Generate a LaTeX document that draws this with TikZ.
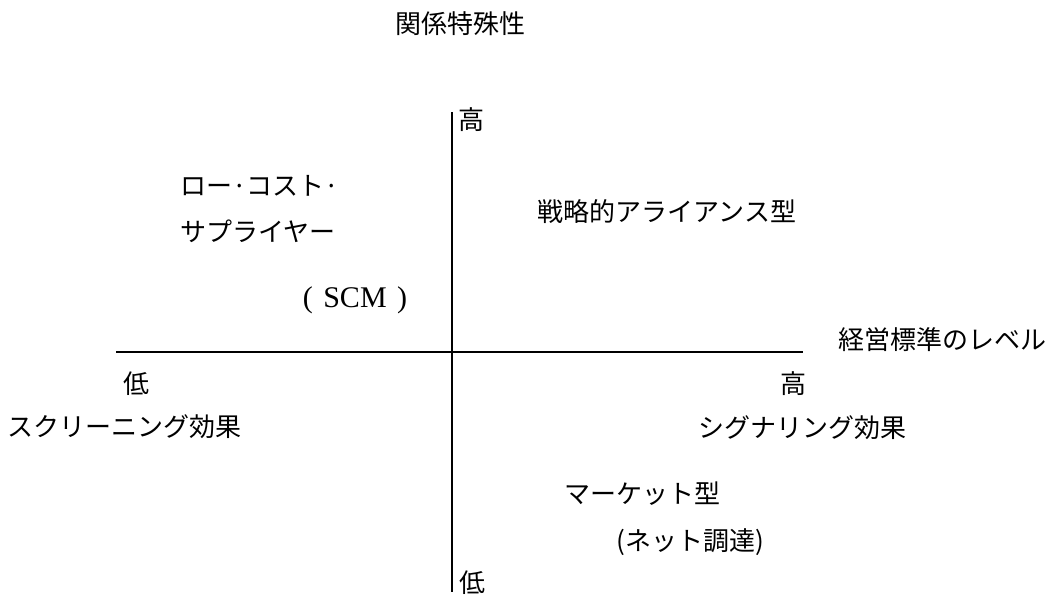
\documentclass[tikz,border=0pt]{standalone}
\usepackage{fontspec}
\setmainfont{Noto Sans CJK JP}
\newfontfamily\seriffont{Liberation Serif}
\begin{document}
\begin{tikzpicture}[x=1pt,y=-1pt,
  lbl/.style={inner sep=0pt, font=\fontsize{26}{30}\selectfont},
  axis/.style={line width=2pt}]
\useasboundingbox (0,0) rectangle (1063,595);
\coordinate (hl) at (116,352);
\coordinate (hr) at (803,352);
\coordinate (vt) at (452,112);
\coordinate (vb) at (452,592);
\draw[axis] (hl) -- (hr);
\draw[axis] (vt) -- (vb);
\node[lbl] (title) at (460,24) {関係特殊性};
\node[lbl] (tophigh) at (471,120) {高};
\node[lbl] (bottomlow) at (472,583) {低};
\node[lbl,anchor=west] (lc1) at (180,186) {ロー·コスト·};
\node[lbl,anchor=west] (lc2) at (180,231) {サプライヤー};
\node[lbl,font=\seriffont\fontsize{30}{34}\selectfont] (scm) at (355,300) {(\hspace{0.35em}SCM\hspace{0.35em})};
\node[lbl] (alliance) at (667,212) {戦略的アライアンス型};
\node[lbl,anchor=west] (xlabel) at (838,340) {経営標準のレベル};
\node[lbl] (leftlow) at (136,384) {低};
\node[lbl] (righthigh) at (793,384) {高};
\node[lbl] (screen) at (125,427) {スクリーニング効果};
\node[lbl] (signal) at (802,428) {シグナリング効果};
\node[lbl] (market) at (642,494) {マーケット型};
\node[lbl] (net) at (690,542) {(ネット調達)};
\end{tikzpicture}
\end{document}
